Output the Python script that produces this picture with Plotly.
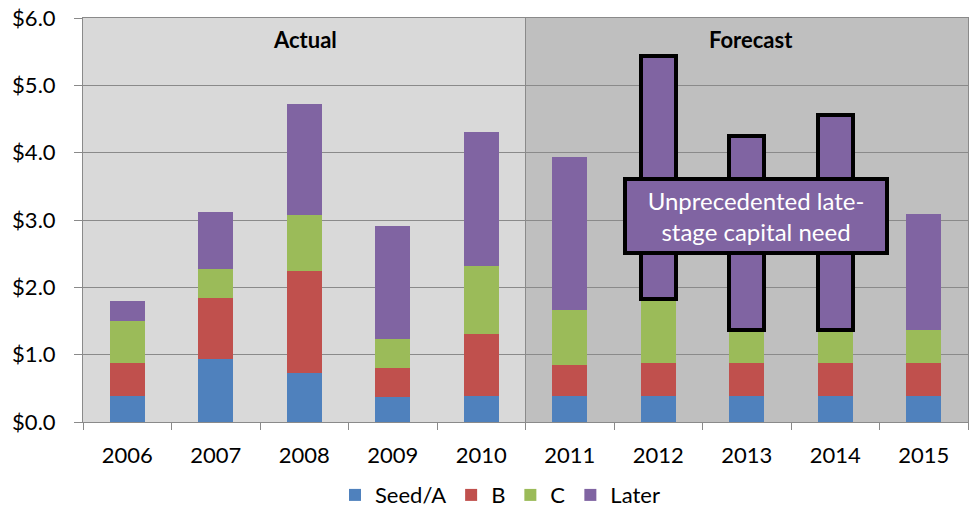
import plotly.graph_objects as go

# Venture funding by stage, $ billions
years = ["2006", "2007", "2008", "2009", "2010", "2011", "2012", "2013", "2014", "2015"]
seed_a = [0.38, 0.94, 0.73, 0.37, 0.39, 0.39, 0.39, 0.39, 0.39, 0.39]
series_b = [0.49, 0.90, 1.51, 0.43, 0.92, 0.46, 0.49, 0.48, 0.48, 0.48]
series_c = [0.63, 0.43, 0.83, 0.44, 1.00, 0.81, 0.95, 0.49, 0.49, 0.50]
later = [0.30, 0.85, 1.66, 1.67, 1.99, 2.28, 3.60, 2.89, 3.20, 1.72]
highlighted = ["2012", "2013", "2014"]
y_ticks = [0, 1, 2, 3, 4, 5, 6]
y_tick_text = ["$0.0", "$1.0", "$2.0", "$3.0", "$4.0", "$5.0", "$6.0"]

FONT = "Lato"
colors = {"Seed/A": "#4F81BD", "B": "#C0504D", "C": "#9BBB59", "Later": "#8064A2"}

fig = go.Figure()
for name, vals in [("Seed/A", seed_a), ("B", series_b), ("C", series_c)]:
    fig.add_trace(go.Bar(x=years, y=vals, name=name, width=0.4,
                         marker=dict(color=colors[name], line=dict(width=0))))

# Later-stage segment, outlined for the years with the funding gap
fig.add_trace(go.Bar(
    x=years, y=later, name="Later", width=0.4,
    marker=dict(
        color=colors["Later"],
        line=dict(width=[4 if y in highlighted else 0 for y in years], color="black"),
    ),
))

grid_col = "#8A8A8A"
fig.update_layout(
    barmode="stack",
    width=969, height=512,
    margin=dict(l=83, r=1, t=18, b=90, autoexpand=False),
    paper_bgcolor="white",
    plot_bgcolor="#D9D9D9",
    font=dict(family=FONT, size=22, color="black"),
    showlegend=True,
    legend=dict(orientation="h", xref="container", yref="container",
                x=0.516, xanchor="center", y=0.033, yanchor="middle",
                font=dict(size=22), itemwidth=30, traceorder="normal"),
    xaxis=dict(
        type="category", range=[-0.5, 9.5], automargin=False,
        showline=True, linecolor=grid_col, linewidth=1, mirror=True,
        ticks="outside", tickson="boundaries", ticklen=7, tickcolor=grid_col,
        showgrid=False, ticklabelstandoff=14,
    ),
    yaxis=dict(
        range=[0, 6], tickvals=y_ticks, ticktext=y_tick_text, automargin=False,
        showline=True, linecolor=grid_col, linewidth=1, mirror=True,
        showgrid=True, gridcolor=grid_col, gridwidth=1,
        ticks="outside", ticklen=8, tickcolor=grid_col,
        ticklabelstandoff=14, zeroline=False,
    ),
    shapes=[
        # forecast period shading
        dict(type="rect", xref="x", yref="paper", x0=4.5, x1=9.5, y0=0, y1=1,
             fillcolor="#BFBFBF", line=dict(width=0), layer="below"),
        dict(type="line", xref="x", yref="paper", x0=4.5, x1=4.5, y0=0, y1=1,
             line=dict(color=grid_col, width=1), layer="below"),
    ],
    annotations=[
        dict(text="<b>Actual</b>", xref="paper", yref="paper", x=0.251, y=0.946,
             xanchor="center", yanchor="middle",
             showarrow=False, font=dict(size=22, family=FONT)),
        dict(text="<b>Forecast</b>", xref="paper", yref="paper", x=0.755, y=0.946,
             xanchor="center", yanchor="middle",
             showarrow=False, font=dict(size=22, family=FONT)),
        dict(text="Unprecedented late-<br>stage capital need", xref="x", yref="y",
             x=7.1, y=3.06, xanchor="center", yanchor="middle",
             showarrow=False, align="center",
             font=dict(size=24, family=FONT, color="white"),
             bgcolor="#8064A2", bordercolor="black", borderwidth=4, borderpad=0,
             width=258, height=70),
    ],
)

fig.write_html("out.html")
